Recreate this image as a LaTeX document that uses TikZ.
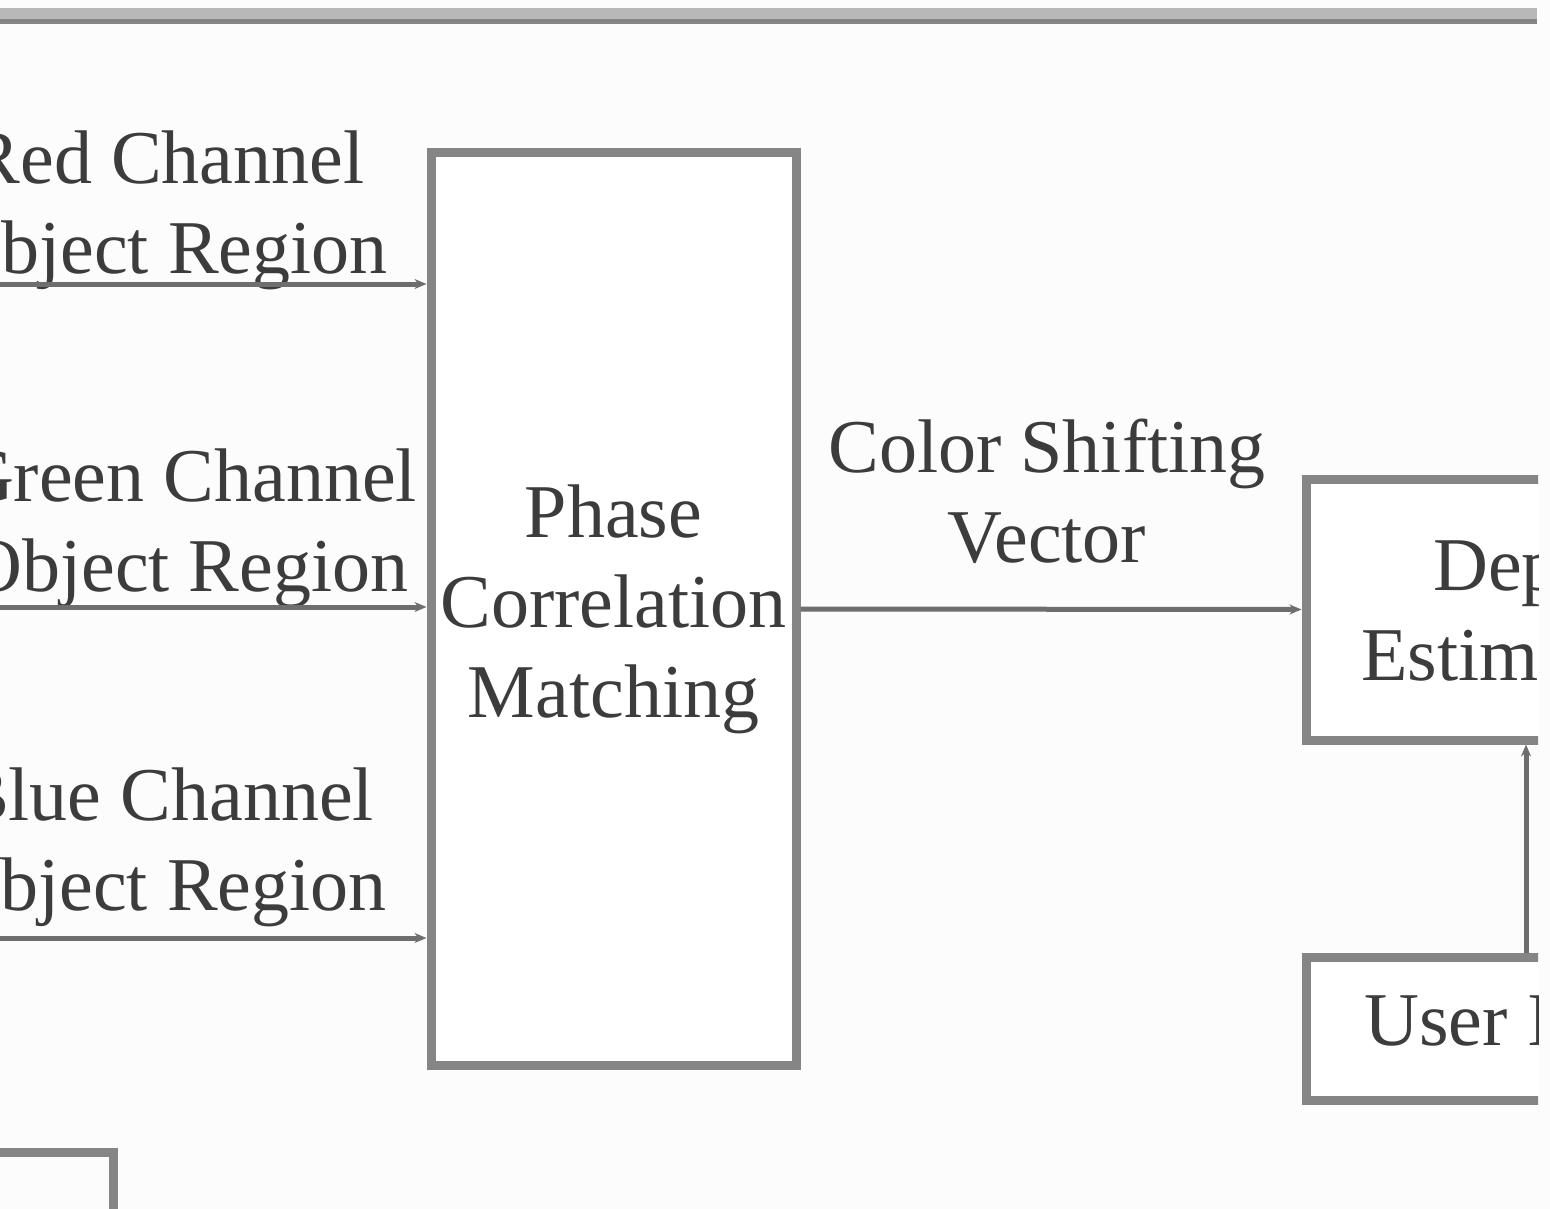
\documentclass[tikz,border=0pt]{standalone}
\usepackage{fontspec}
\setmainfont{Liberation Serif}
\usetikzlibrary{arrows.meta}
\definecolor{bgc}{HTML}{FCFCFC}
\definecolor{boxc}{HTML}{858585}
\definecolor{linec}{HTML}{6E6E6E}
\definecolor{txtc}{HTML}{3C3C3C}
\definecolor{topl}{HTML}{B8B8B8}
\definecolor{topd}{HTML}{858585}
\tikzset{
  blockbox/.style={draw=boxc, line width=9pt, fill=white, rectangle, inner sep=0pt,
    align=center, text=txtc, font=\fontsize{76}{90}\selectfont},
  lbl/.style={inner sep=0pt, align=center, text=txtc, font=\fontsize{76}{90}\selectfont},
  conn/.style={draw=linec, line width=5pt, -{Stealth[length=12pt,width=10pt]}},
}
\begin{document}
\begin{tikzpicture}[x=1pt,y=-1pt]
\useasboundingbox (0,0) rectangle (1550,1209);
\fill[bgc] (0,0) rectangle (1550,1209);
\begin{scope}
\clip (0,0) rectangle (1538,1209);
% top rule
\draw[topl, line width=11pt] (-10,13.5) -- (1537,13.5);
\draw[topd, line width=5pt] (-10,21.5) -- (1537,21.5);

% main block
\node[blockbox, minimum width=365pt, minimum height=912pt] (phase) at (613.5,609)
  {Phase\\Correlation\\Matching};

% input labels
\node[lbl] (red) at (167,210.5) {Red Channel\\Object Region};
\node[lbl] (green) at (188,528.5) {Green Channel\\Object Region};
\node[lbl] (blue) at (166,847.5) {Blue Channel\\Object Region};

\coordinate (rin) at (-20,284);
\coordinate (gin) at (-20,607);
\coordinate (bin) at (-20,938);
\draw[conn] (rin) -- (phase.west |- rin);
\draw[conn] (gin) -- (phase.west |- gin);
\draw[conn] (bin) -- (phase.west |- bin);

% output
\node[blockbox, minimum width=440pt, minimum height=261pt] (depth) at (1526,609.5)
  {Depth\\Estimation};
\node[blockbox, minimum width=440pt, minimum height=143pt] (user) at (1526,1028.5)
  {User Input};
\node[lbl] (csv) at (1047,491.5) {Color Shifting\\Vector};
\draw[conn] (phase.east) -- (depth.west);
\draw[conn] (user.north) -- (depth.south);

% partial box bottom left
\node[draw=boxc, line width=9pt, rectangle, minimum width=420pt, minimum height=200pt,
  anchor=north east, inner sep=0pt] (blbox) at (118,1148) {};
\end{scope}
\end{tikzpicture}
\end{document}
